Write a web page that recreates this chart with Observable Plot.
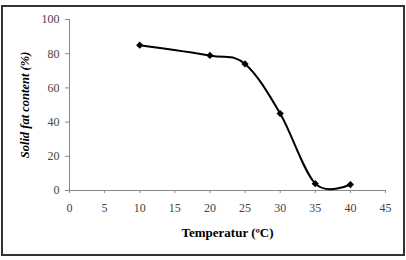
<!DOCTYPE html>
<html>
<head>
<meta charset="utf-8">
<script src="https://cdn.jsdelivr.net/npm/d3@7"></script>
<script src="https://cdn.jsdelivr.net/npm/@observablehq/plot@0.6"></script>
<style>
  html, body { margin: 0; padding: 0; background: #fff; }
  #wrap { position: relative; width: 406px; height: 260px; }
  #border { position: absolute; left: 1px; top: 5px; width: 400px; height: 247px; border: 2px solid #333; pointer-events: none; }
  svg g[aria-label="y-axis label"] text { font-style: italic; font-weight: bold; fill: #000; font-size: 12.5px; }
  svg g[aria-label="x-axis label"] text { font-weight: bold; fill: #000; font-size: 13px; }
</style>
</head>
<body>
<div id="wrap"><div id="border"></div></div>
<script>
const temperature = [10, 20, 25, 30, 35, 40];
const solidFat = [85, 79, 74, 45, 4, 3.5];
const xTicks = [0, 5, 10, 15, 20, 25, 30, 35, 40, 45];
const yTicks = [0, 20, 40, 60, 80, 100];
const xLabel = "Temperatur (ºC)";
const yLabel = "Solid fat content (%)";

const data = temperature.map((t, i) => ({t, v: solidFat[i]}));

const chart = Plot.plot({
  width: 406,
  height: 260,
  marginLeft: 69,
  marginRight: 21,
  marginTop: 19,
  marginBottom: 70,
  style: {fontFamily: "'Liberation Serif', 'Times New Roman', serif", fontSize: "12px", background: "transparent", color: "#444"},
  x: {domain: [0, 45]},
  y: {domain: [0, 100]},
  marks: [
    Plot.ruleY([0], {stroke: "#888", strokeWidth: 1}),
    Plot.ruleX([0], {stroke: "#888", strokeWidth: 1}),
    Plot.axisX({ticks: xTicks, tickSize: 3, tickPadding: 10, stroke: "#888", fill: "#444", fontSize: 12,
      label: xLabel, labelAnchor: "center", labelArrow: "none", labelOffset: 46}),
    Plot.axisY({ticks: yTicks, tickSize: 4, tickPadding: 6, stroke: "#888", fill: "#444", fontSize: 12,
      label: yLabel, labelAnchor: "center", labelArrow: "none", labelOffset: 49}),
    Plot.line(data, {x: "t", y: "v", curve: "cardinal", tension: 0, stroke: "#000", strokeWidth: 2}),
    Plot.dot(data, {x: "t", y: "v", symbol: "square", rotate: 45, r: 2.9, fill: "#000", stroke: "none"})
  ]
});
document.getElementById("wrap").prepend(chart);
</script>
</body>
</html>
